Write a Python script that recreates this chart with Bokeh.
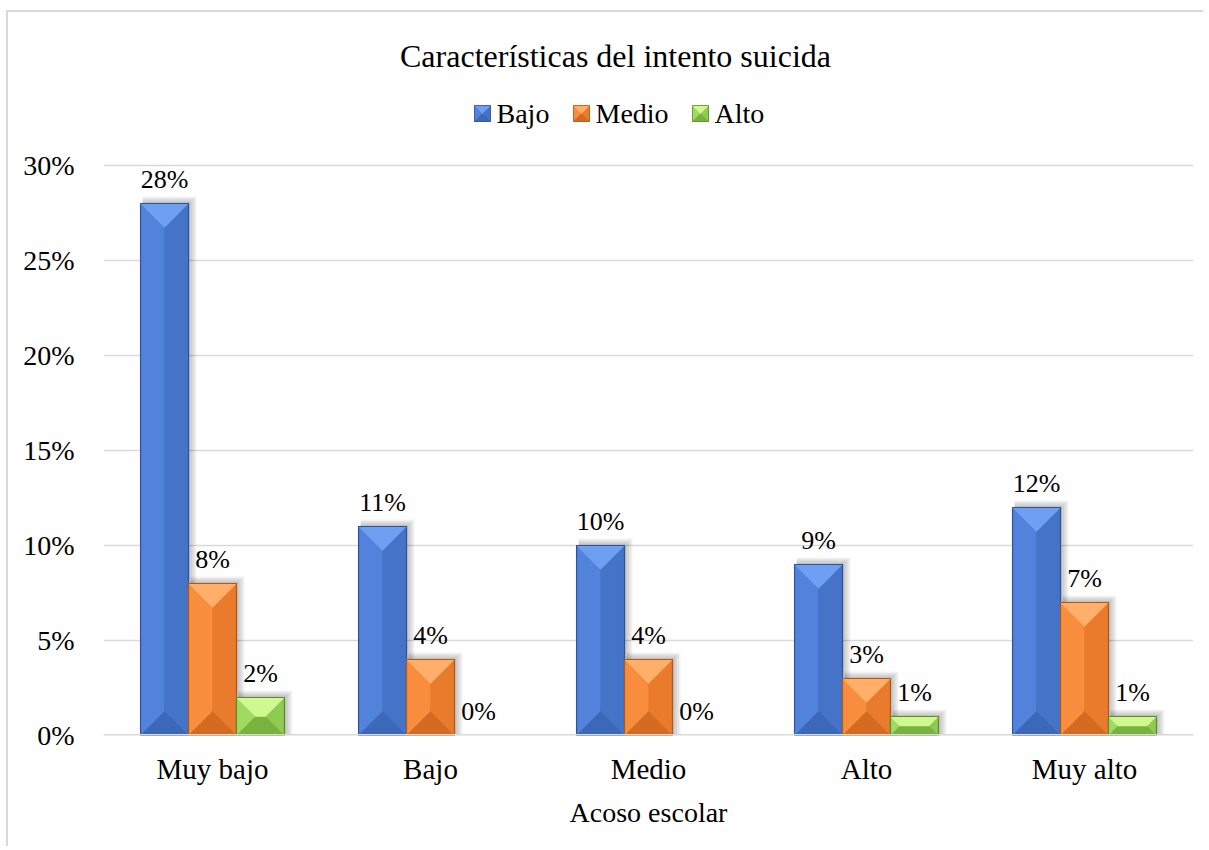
import numpy as np
from bokeh.plotting import figure
from bokeh.models import (Range1d, FixedTicker, NumeralTickFormatter, LabelSet,
                          Span, ColumnDataSource)
from bokeh.core.properties import value
from bokeh.embed import file_html
from bokeh.resources import INLINE

# ---------------- data ----------------
categories = ["Muy bajo", "Bajo", "Medio", "Alto", "Muy alto"]
series_names = ["Bajo", "Medio", "Alto"]
bajo = [0.28, 0.11, 0.10, 0.09, 0.12]
medio = [0.08, 0.04, 0.04, 0.03, 0.07]
alto = [0.02, 0.00, 0.00, 0.01, 0.01]
y_ticks = [0.0, 0.05, 0.10, 0.15, 0.20, 0.25, 0.30]
title_text = "Características del intento suicida"
x_title = "Acoso escolar"

# ---------------- layout (page pixels) ----------------
FONT = "Liberation Serif"
CANVAS_LEFT, CANVAS_TOP = 8, 12
PLOT_LEFT, PLOT_RIGHT = 103, 1193      # plot area (grid) in page px
Y0_PX, YMAX_PX = 735, 165              # page y of 0% and 30%
Y_MAX = 0.30
PX_X = (PLOT_RIGHT - PLOT_LEFT) / len(categories)
PX_Y = (Y0_PX - YMAX_PX) / Y_MAX
X_MIN, X_MAX = -0.5, len(categories) - 0.5
Y_TOP = Y_MAX + (YMAX_PX - CANVAS_TOP) / PX_Y


def px2x(px):
    return X_MIN + (px - PLOT_LEFT) / PX_X


def py2y(py):
    return (Y0_PX - py) / PX_Y


BAR_W = 0.22
palettes = {
    "Bajo": dict(top="#6E9FF3", left="#5183DC", right="#4573C8", bottom="#3D67B9", edge="#2E5496"),
    "Medio": dict(top="#FFAF69", left="#F88D3E", right="#E97B2C", bottom="#D46B21", edge="#B05719"),
    "Alto": dict(top="#CFF891", left="#A0DA60", right="#8FCB50", bottom="#78B33F", edge="#5C8C2C"),
}

p = figure(frame_width=PLOT_RIGHT - PLOT_LEFT, frame_height=Y0_PX - CANVAS_TOP,
           x_range=Range1d(X_MIN, X_MAX), y_range=Range1d(0, Y_TOP),
           output_backend="svg", toolbar_location=None,
           min_border_left=PLOT_LEFT - CANVAS_LEFT, min_border_right=10,
           min_border_top=0, min_border_bottom=846 - Y0_PX,
           background_fill_color="white", border_fill_color="white",
           styles={"border-left": "2px solid #D9D9D9", "border-top": "2px solid #D9D9D9",
                   "margin-left": "6px", "margin-top": "10px"})
p.outline_line_color = None

# axes
p.yaxis.ticker = FixedTicker(ticks=y_ticks)
p.yaxis.formatter = NumeralTickFormatter(format="0%")
p.xaxis.ticker = FixedTicker(ticks=list(range(len(categories))))
p.xaxis.major_label_overrides = {i: c for i, c in enumerate(categories)}
for ax in (p.xaxis, p.yaxis):
    ax.axis_line_color = None
    ax.major_tick_line_color = None
    ax.minor_tick_line_color = None
    ax.major_label_text_font = FONT
    ax.major_label_text_color = "#000000"
p.yaxis.major_label_text_font_size = "28px"
p.xaxis.major_label_text_font_size = "29px"
p.yaxis.major_label_standoff = 23
p.xaxis.major_label_standoff = 11
p.xaxis.axis_label = x_title
p.xaxis.axis_label_text_font = FONT
p.xaxis.axis_label_text_font_size = "28px"
p.xaxis.axis_label_text_font_style = "normal"
p.xaxis.axis_label_text_color = "#000000"
p.xaxis.axis_label_standoff = 9
p.xgrid.grid_line_color = None
p.ygrid.grid_line_color = "#D9D9D9"
p.ygrid.grid_line_width = 1.5
p.add_layout(Span(location=0, dimension="width", line_color="#D9D9D9", line_width=3))


def bevel_facets(x0, x1, y0, y1):
    """Four bevel facets of rectangles (data coords), depth = half the smaller side."""
    w_px = (x1 - x0) * PX_X
    h_px = (y1 - y0) * PX_Y
    d_px = np.minimum(w_px / 2, h_px / 2)
    dx = d_px / PX_X
    dy = d_px / PX_Y
    return {
        "left": ([[a, a, a + e, a + e] for a, e in zip(x0, dx)],
                 [[b, t, t - f, b + f] for b, t, f in zip(y0, y1, dy)]),
        "right": ([[a, a, a - e, a - e] for a, e in zip(x1, dx)],
                  [[b, t, t - f, b + f] for b, t, f in zip(y0, y1, dy)]),
        "bottom": ([[a, c, c - e, a + e] for a, c, e in zip(x0, x1, dx)],
                   [[b, b, b + f, b + f] for b, f in zip(y0, dy)]),
        "top": ([[a, c, c - e, a + e] for a, c, e in zip(x0, x1, dx)],
                [[t, t, t - f, t - f] for t, f in zip(y1, dy)]),
    }


def draw_beveled(x0, x1, y0, y1, pal, edge_w=1.2):
    p.quad(left=x0, right=x1, top=y1, bottom=y0, fill_color=pal["left"], line_color=None)
    facets = bevel_facets(x0, x1, y0, y1)
    for facet in ["left", "right", "bottom", "top"]:
        xs, ys = facets[facet]
        p.patches(xs=xs, ys=ys, fill_color=pal[facet], line_color=pal[facet], line_width=0.5)
    p.quad(left=x0, right=x1, top=y1, bottom=y0, fill_color=None,
           line_color=pal["edge"], line_width=edge_w)


# ---------------- bars ----------------
all_values = [bajo, medio, alto]
offsets = [-BAR_W, 0.0, BAR_W]
xc_all = np.arange(len(categories), dtype=float)

# soft shadows first
sh_l, sh_r, sh_t, sh_b = [], [], [], []
for vals, off in zip(all_values, offsets):
    v = np.array(vals)
    m = v > 0
    x0 = xc_all[m] + off - BAR_W / 2
    x1 = xc_all[m] + off + BAR_W / 2
    for k in range(1, 6):
        sh_l.extend(x0 + 2 / PX_X)
        sh_r.extend(x1 + (1.6 * k) / PX_X)
        sh_t.extend(v[m] + (1.4 * k) / PX_Y)
        sh_b.extend(np.zeros(m.sum()))
p.quad(left=sh_l, right=sh_r, top=sh_t, bottom=sh_b, fill_color="black",
       fill_alpha=0.05, line_color=None)

for name, vals, off in zip(series_names, all_values, offsets):
    v = np.array(vals)
    m = v > 0
    xc = xc_all[m] + off
    draw_beveled(xc - BAR_W / 2, xc + BAR_W / 2, np.zeros(m.sum()), v[m], palettes[name])

# data labels
lab_x, lab_y, lab_t = [], [], []
for vals, off in zip(all_values, offsets):
    for i, v in enumerate(vals):
        lab_x.append(i + off)
        lab_y.append(v)
        lab_t.append(f"{round(v * 100):d}%")
p.add_layout(LabelSet(x="x", y="y", text="t",
                      source=ColumnDataSource(dict(x=lab_x, y=lab_y, t=lab_t)),
                      text_align="center", text_baseline="middle", y_offset=24,
                      text_font=FONT, text_font_size="26px", text_color="#000000"))

# ---------------- legend (drawn inside the extended frame) ----------------
leg_square_px = [474, 573, 692]
LEG_Y_PX, LEG_SIZE = 113, 16
for name, lx in zip(series_names, leg_square_px):
    draw_beveled(np.array([px2x(lx)]), np.array([px2x(lx + LEG_SIZE)]),
                 np.array([py2y(LEG_Y_PX + LEG_SIZE / 2)]),
                 np.array([py2y(LEG_Y_PX - LEG_SIZE / 2)]), palettes[name], edge_w=0.8)
p.text(x=[px2x(lx + LEG_SIZE + 6) for lx in leg_square_px], y=[py2y(LEG_Y_PX)] * 3,
       text=series_names, text_align="left", text_baseline="middle",
       text_font=value(FONT), text_font_size="28px", text_color="#000000")

# title
p.text(x=[px2x(615)], y=[py2y(55)], text=[title_text], text_align="center",
       text_baseline="middle", text_font=value(FONT), text_font_size="32px",
       text_color="#000000")

open("out.html", "w").write(file_html(p, INLINE))
